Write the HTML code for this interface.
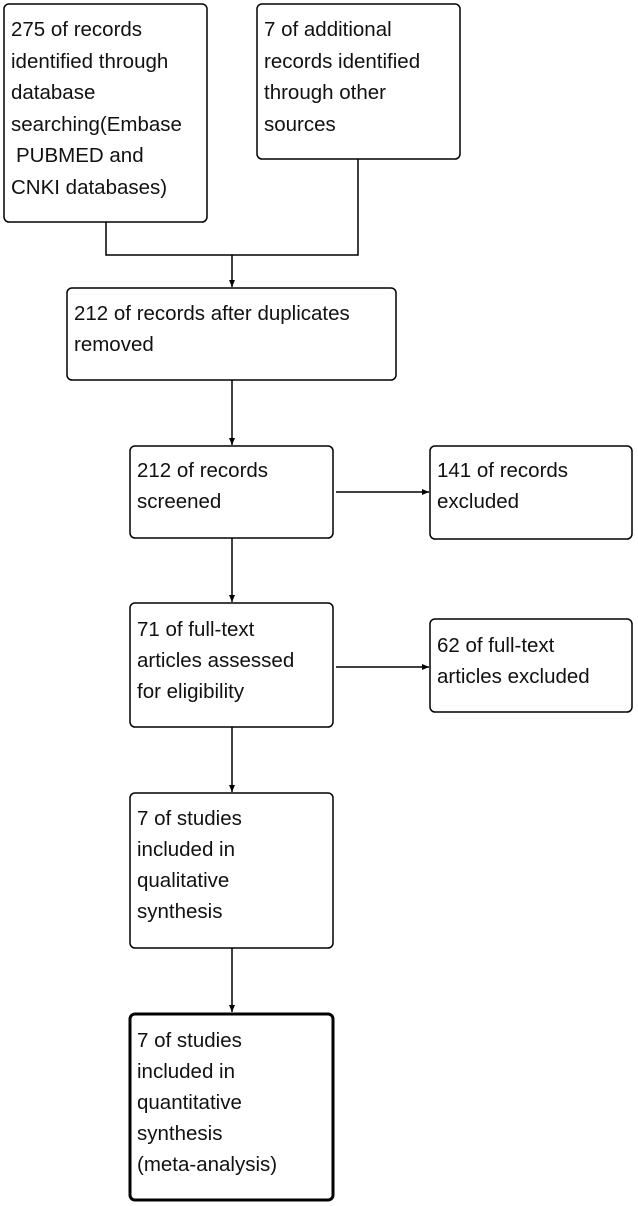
<!DOCTYPE html>
<html><head><meta charset="utf-8"><style>
html,body{margin:0;padding:0;background:#fff;width:638px;height:1206px;overflow:hidden}
svg{display:block}
text{font-family:"Liberation Sans",sans-serif;font-size:20.5px;fill:#111}
</style></head><body>
<svg width="638" height="1206" viewBox="0 0 638 1206" xmlns="http://www.w3.org/2000/svg">
<defs><marker id="a" markerWidth="8" markerHeight="8" refX="7" refY="4" orient="auto" markerUnits="userSpaceOnUse"><path d="M0,1 L7,4 L0,7 z" fill="#000"/></marker></defs>
<g fill="none" stroke="#000" stroke-width="1.5">
<rect x="4" y="4" width="203" height="218" rx="5"/>
<rect x="257" y="4" width="203" height="155" rx="5"/>
<rect x="67" y="288" width="329" height="92" rx="5"/>
<rect x="130" y="446" width="203" height="92" rx="5"/>
<rect x="430" y="446" width="202" height="93" rx="5"/>
<rect x="130" y="603" width="203" height="124" rx="5"/>
<rect x="430" y="619" width="202" height="93" rx="5"/>
<rect x="130" y="793" width="203" height="155" rx="5"/>
<rect x="130" y="1014" width="203" height="186" rx="5" stroke-width="3"/>
<path d="M106,222 V255 H358 V159"/>
<path d="M232,255 V287" marker-end="url(#a)"/>
<path d="M232,380 V445" marker-end="url(#a)"/>
<path d="M336,492 H429" marker-end="url(#a)"/>
<path d="M232,538 V602" marker-end="url(#a)"/>
<path d="M336,667 H429" marker-end="url(#a)"/>
<path d="M232,727 V792" marker-end="url(#a)"/>
<path d="M232,948 V1012" marker-end="url(#a)"/>
</g>
<text x="11" y="36">275 of records</text>
<text x="11" y="68">identified through</text>
<text x="11" y="99">database</text>
<text x="11" y="131">searching(Embase</text>
<text x="16" y="162">PUBMED and</text>
<text x="11" y="194">CNKI databases)</text>
<text x="264" y="36">7 of additional</text>
<text x="264" y="68">records identified</text>
<text x="264" y="99">through other</text>
<text x="264" y="131">sources</text>
<text x="74" y="320">212 of records after duplicates</text>
<text x="74" y="351">removed</text>
<text x="137" y="477">212 of records</text>
<text x="137" y="508">screened</text>
<text x="437" y="477">141 of records</text>
<text x="437" y="508">excluded</text>
<text x="137" y="636">71 of full-text</text>
<text x="137" y="667">articles assessed</text>
<text x="137" y="698">for eligibility</text>
<text x="437" y="652">62 of full-text</text>
<text x="437" y="683">articles excluded</text>
<text x="137" y="825">7 of studies</text>
<text x="137" y="856">included in</text>
<text x="137" y="887">qualitative</text>
<text x="137" y="918">synthesis</text>
<text x="137" y="1047">7 of studies</text>
<text x="137" y="1078">included in</text>
<text x="137" y="1109">quantitative</text>
<text x="137" y="1140">synthesis</text>
<text x="137" y="1171">(meta-analysis)</text>
</svg>
</body></html>
